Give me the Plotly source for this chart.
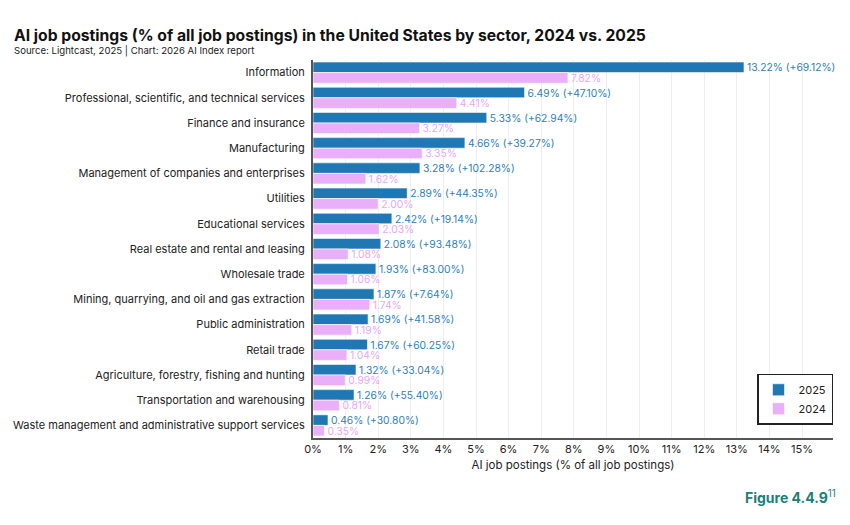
import plotly.graph_objects as go

sectors = [
    "Information",
    "Professional, scientific, and technical services",
    "Finance and insurance",
    "Manufacturing",
    "Management of companies and enterprises",
    "Utilities",
    "Educational services",
    "Real estate and rental and leasing",
    "Wholesale trade",
    "Mining, quarrying, and oil and gas extraction",
    "Public administration",
    "Retail trade",
    "Agriculture, forestry, fishing and hunting",
    "Transportation and warehousing",
    "Waste management and administrative support services",
]
v2025 = [13.22, 6.49, 5.33, 4.66, 3.28, 2.89, 2.42, 2.08, 1.93, 1.87, 1.69, 1.67, 1.32, 1.26, 0.46]
v2024 = [7.82, 4.41, 3.27, 3.35, 1.62, 2.00, 2.03, 1.08, 1.06, 1.74, 1.19, 1.04, 0.99, 0.81, 0.35]
change = [69.12, 47.10, 62.94, 39.27, 102.28, 44.35, 19.14, 93.48, 83.00, 7.64, 41.58, 60.25, 33.04, 55.40, 30.80]
tick_vals = list(range(0, 16))
tick_text = [f"{t}%" for t in tick_vals]

FONT = "Inter, Lato, sans-serif"
BLUE = "#1f77b4"
PINK = "#e9b0f9"

fig = go.Figure()
fig.add_trace(go.Bar(
    y=sectors, x=v2025, orientation="h", name="2025",
    marker=dict(color=BLUE, line=dict(color="rgba(255,255,255,0.6)", width=1)),
    text=[f"{v:.2f}% (+{c:.2f}%)" for v, c in zip(v2025, change)],
    textposition="outside", cliponaxis=False, constraintext="none",
    textfont=dict(color="#2c7fc0", size=10.3, family=FONT),
))
fig.add_trace(go.Bar(
    y=sectors, x=v2024, orientation="h", name="2024",
    marker=dict(color=PINK, line=dict(color="rgba(255,255,255,0.6)", width=1)),
    text=[f"{v:.2f}%" for v in v2024],
    textposition="outside", cliponaxis=False, constraintext="none",
    textfont=dict(color="#e9a6f7", size=10.3, family=FONT),
))

fig.update_layout(
    width=850, height=525,
    margin=dict(l=313, r=17, t=60, b=87),
    paper_bgcolor="white", plot_bgcolor="white",
    barmode="group", bargap=0.16, bargroupgap=0,
    font=dict(family=FONT, color="#222", size=11),
    xaxis=dict(
        range=[0, 15.95], tickvals=tick_vals, ticktext=tick_text,
        showgrid=True, gridcolor="#eeeeee", gridwidth=1,
        showline=True, linecolor="#555", linewidth=2,
        ticks="", tickfont=dict(size=11, color="#222"),
        title=dict(text="AI job postings (% of all job postings)", font=dict(size=11.5, color="#222"), standoff=6),
        zeroline=False, automargin=False,
    ),
    yaxis=dict(
        autorange="reversed", showgrid=False,
        showline=True, linecolor="#555", linewidth=2,
        ticks="", ticklabelstandoff=4, tickfont=dict(size=11, color="#222"),
        automargin=False,
    ),
    legend=dict(
        x=1.0, xanchor="right", y=0.035, yanchor="bottom",
        bordercolor="#222", borderwidth=1.5, bgcolor="white",
        font=dict(size=11, color="#222"), traceorder="normal",
    ),
)

fig.add_annotation(
    text="<b>AI job postings (% of all job postings) in the United States by sector, 2024 vs. 2025</b>",
    xref="paper", yref="paper", x=-313 / 520 + 12 / 520, y=1 + 25 / 378,
    xanchor="left", yanchor="middle", showarrow=False,
    font=dict(size=15.7, color="#111", family=FONT),
)
fig.add_annotation(
    text="Source: Lightcast, 2025 | Chart: 2026 AI Index report",
    xref="paper", yref="paper", x=-313 / 520 + 12 / 520, y=1 + 9 / 378,
    xanchor="left", yanchor="middle", showarrow=False,
    font=dict(size=9.6, color="#222", family=FONT),
)
fig.add_annotation(
    text="<b>Figure 4.4.9</b><sup>11</sup>", xref="paper", yref="paper",
    x=1.01, y=-0.156, xanchor="right", yanchor="middle", showarrow=False,
    font=dict(size=14, color="#1a8077", family=FONT),
)

fig.write_html("out.html")
